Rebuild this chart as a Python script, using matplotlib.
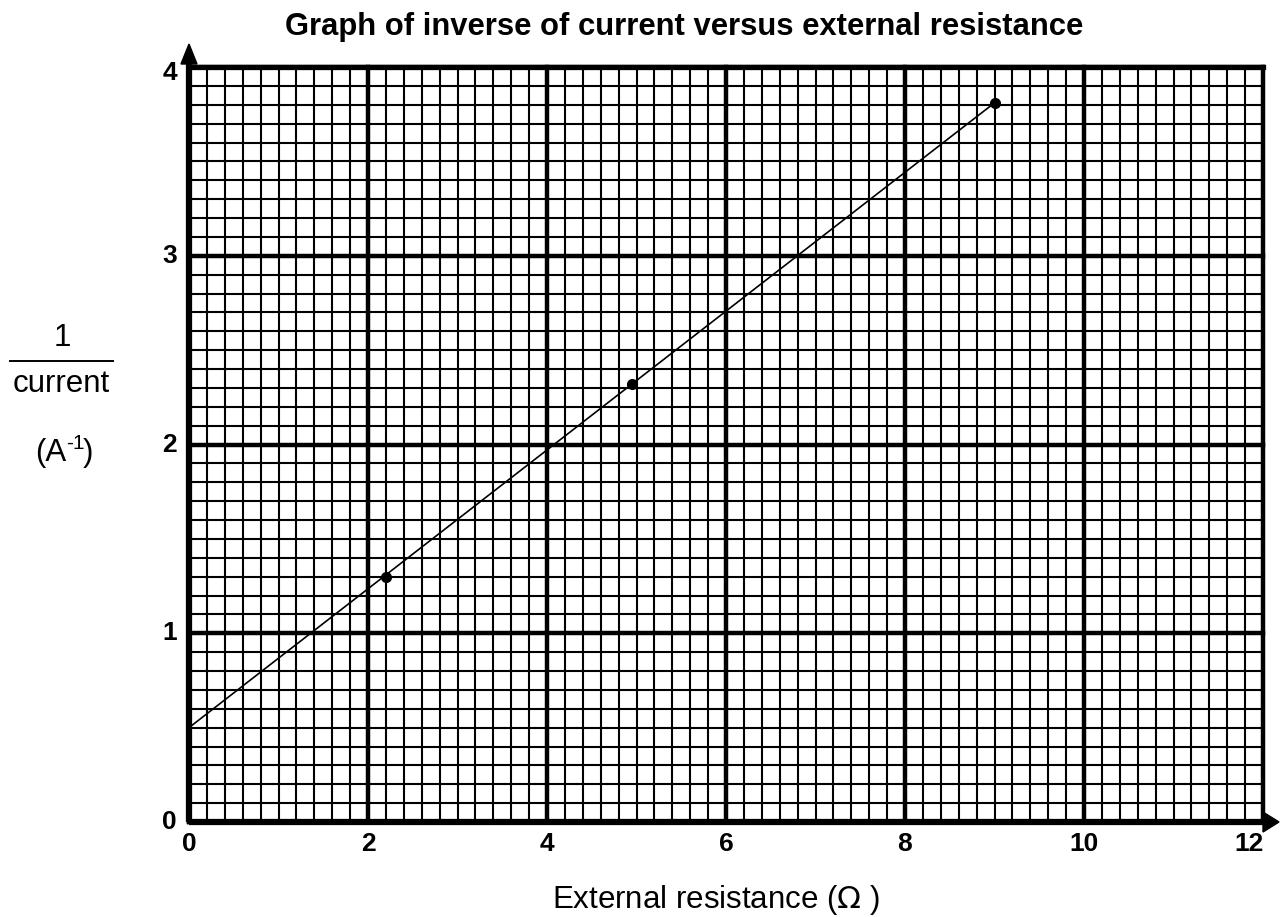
import matplotlib
matplotlib.use("Agg")
import matplotlib.pyplot as plt
from matplotlib.patches import Polygon
import numpy as np

plt.rcParams['font.family'] = ['Liberation Sans', 'DejaVu Sans']

# Data
resistance = [2.2, 4.95, 9.0]
inv_current = [1.3, 2.32, 3.81]
fit_x = [0.0, 9.0]
fit_y = [0.5, 3.81]
x_ticks = [0, 2, 4, 6, 8, 10, 12]
y_ticks = [0, 1, 2, 3, 4]

W, H = 1280, 917
fig = plt.figure(figsize=(12.8, 9.17), dpi=100)
L, R, T, B = 189, 1263, 67, 822
ax = fig.add_axes([L/W, 1-B/H, (R-L)/W, (B-T)/H])
ax.set_xlim(0, 12)
ax.set_ylim(0, 4)
px_x = (R - L) / 12.0
px_y = (B - T) / 4.0

# minor grid
for xv in np.arange(0, 12.0001, 0.2):
    ax.axvline(xv, color='black', lw=1.5, zorder=1, clip_on=False)
for yv in np.arange(0, 4.0001, 0.1):
    ax.axhline(yv, color='black', lw=1.5, zorder=1, clip_on=False)
# major grid
for xv in x_ticks:
    ax.axvline(xv, color='black', lw=3.2, zorder=2, clip_on=False)
for yv in y_ticks:
    ax.axhline(yv, color='black', lw=3.2, zorder=2, clip_on=False)
ax.axhline(4, color='black', lw=3.8, zorder=3, clip_on=False)

for s in ax.spines.values():
    s.set_visible(False)
ax.set_xticks([])
ax.set_yticks([])

# main axes lines
ax.plot([0, 12.0], [0, 0], color='black', lw=4.5, zorder=5, clip_on=False, solid_capstyle='butt')
ax.plot([0, 0], [0, 4.03], color='black', lw=4.5, zorder=5, clip_on=False, solid_capstyle='butt')
# arrow heads
ax.add_patch(Polygon([[12.0, -10/px_y], [12.0, 10/px_y], [(1279-L)/px_x, 0]],
                     closed=True, color='black', clip_on=False, zorder=6))
ax.add_patch(Polygon([[-8/px_x, (B-64)/px_y], [8/px_x, (B-64)/px_y], [0, (B-44)/px_y]],
                     closed=True, color='black', clip_on=False, zorder=6))

# fit line and points
ax.plot(fit_x, fit_y, color='black', lw=1.2, zorder=7)
ax.plot(resistance, inv_current, 'o', color='black', ms=7, zorder=8)

# tick labels
for xv in x_ticks:
    ha = 'right' if xv == 12 else 'center'
    xo = 0 if xv != 12 else 0.01
    ax.text(xv + xo, -(844 - B)/px_y, str(xv), ha=ha, va='center', fontsize=19, fontweight='bold')
for yv in y_ticks:
    yo = -6/px_y if yv == 4 else 0
    ax.text(-12/px_x, yv + yo, str(yv), ha='right', va='center', fontsize=19, fontweight='bold')

fig.text(684/W, 1-27/H, 'Graph of inverse of current versus external resistance',
         ha='center', va='center', fontsize=22.3, fontweight='bold')
fig.text(716/W, 1-900/H, 'External resistance ($\\Omega$ )', ha='center', va='center', fontsize=22.5)

fig.text(62/W, 1-338/H, '1', ha='center', va='center', fontsize=22.5)
fig.add_artist(plt.Line2D([10/W, 113/W], [1-361/H, 1-361/H], color='black', lw=1.4))
fig.text(61/W, 1-384/H, 'current', ha='center', va='center', fontsize=22.5)
fig.text(35/W, 1-461/H, '(A', ha='left', va='baseline', fontsize=22.5)
fig.text(66/W, 1-449/H, '-1', ha='left', va='baseline', fontsize=15)
fig.text(83/W, 1-461/H, ')', ha='left', va='baseline', fontsize=22.5)

fig.savefig('out.png', dpi=100)
